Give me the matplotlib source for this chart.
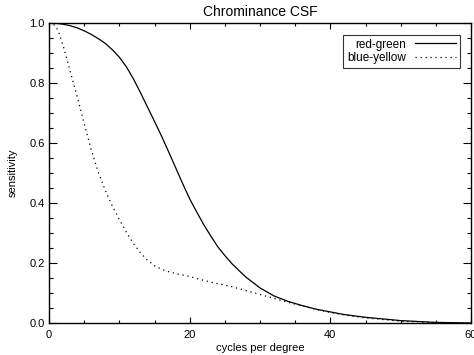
import matplotlib
matplotlib.use("Agg")
import matplotlib.pyplot as plt
from matplotlib.ticker import MultipleLocator, FormatStrFormatter

plt.rcParams['font.family'] = ['Liberation Sans', 'DejaVu Sans']

# values
freq_rg = [0, 1, 2, 3, 4, 5, 6, 7, 8, 9, 10, 11, 12, 13, 14, 15, 16, 17, 18, 19,
           20, 21, 22, 23, 24, 25, 26, 27, 28, 30, 32, 34, 36, 38, 40, 42, 45,
           50, 55, 60]
sens_rg = [1.000, 0.999, 0.996, 0.991, 0.984, 0.974, 0.962, 0.948, 0.932, 0.911,
           0.886, 0.854, 0.814, 0.768, 0.720, 0.672, 0.623, 0.571, 0.518, 0.465,
           0.414, 0.370, 0.328, 0.290, 0.254, 0.225, 0.198, 0.175, 0.153, 0.117,
           0.090, 0.072, 0.058, 0.046, 0.037, 0.028, 0.019, 0.008, 0.002, 0.000]

freq_by = [0, 0.5, 1, 1.5, 2, 3, 4, 5, 6, 7, 8, 9, 10, 11, 12, 13, 14, 15, 16,
           17, 18, 20, 22, 24, 26, 28, 30, 32, 34, 36, 38, 40, 42, 45, 50, 55, 60]
sens_by = [1.000, 0.998, 0.988, 0.962, 0.925, 0.840, 0.755, 0.665, 0.578, 0.503,
           0.442, 0.390, 0.345, 0.303, 0.265, 0.234, 0.209, 0.191, 0.179, 0.171,
           0.165, 0.155, 0.142, 0.131, 0.121, 0.108, 0.095, 0.082, 0.069, 0.057,
           0.045, 0.035, 0.027, 0.017, 0.006, 0.001, 0.000]

labels = ['red-green', 'blue-yellow']

fig = plt.figure(figsize=(4.74, 3.55), dpi=100)
ax = fig.add_axes([49 / 474, 1 - 323 / 355, 422 / 474, 300 / 355])

ax.plot(freq_rg, sens_rg, color='black', lw=0.9, label=labels[0])
ax.plot(freq_by, sens_by, color='black', lw=0.9, linestyle=(0, (1, 3)), label=labels[1])

ax.set_xlim(0, 60)
ax.set_ylim(0, 1)
ax.xaxis.set_major_locator(MultipleLocator(20))
ax.xaxis.set_minor_locator(MultipleLocator(5))
ax.yaxis.set_major_locator(MultipleLocator(0.2))
ax.yaxis.set_minor_locator(MultipleLocator(0.05))
ax.yaxis.set_major_formatter(FormatStrFormatter('%.1f'))

ax.tick_params(axis='both', which='both', direction='in', top=True, right=True,
               labelsize=8, width=0.8)
ax.tick_params(axis='x', which='major', length=4.3, pad=5)
ax.tick_params(axis='x', which='minor', length=2.2)
ax.tick_params(axis='y', which='major', length=6, pad=3)
ax.tick_params(axis='y', which='minor', length=3)
for s in ax.spines.values():
    s.set_linewidth(1.0)

ax.set_title('Chrominance CSF', fontsize=10, pad=5)
ax.set_xlabel('cycles per degree', fontsize=8)
ax.set_ylabel('sensitivity', fontsize=8)
ax.xaxis.set_label_coords(0.5, -0.068)
ax.yaxis.set_label_coords(-0.073, 0.5)

leg = ax.legend(loc='upper right', bbox_to_anchor=(0.974, 0.96), borderaxespad=0,
                markerfirst=False, fancybox=False, fontsize=8.5, handlelength=3.5,
                handletextpad=0.8, labelspacing=0.15, borderpad=0.3)
leg.get_frame().set_edgecolor('black')
leg.get_frame().set_linewidth(0.8)

fig.savefig('out.png', dpi=100)
